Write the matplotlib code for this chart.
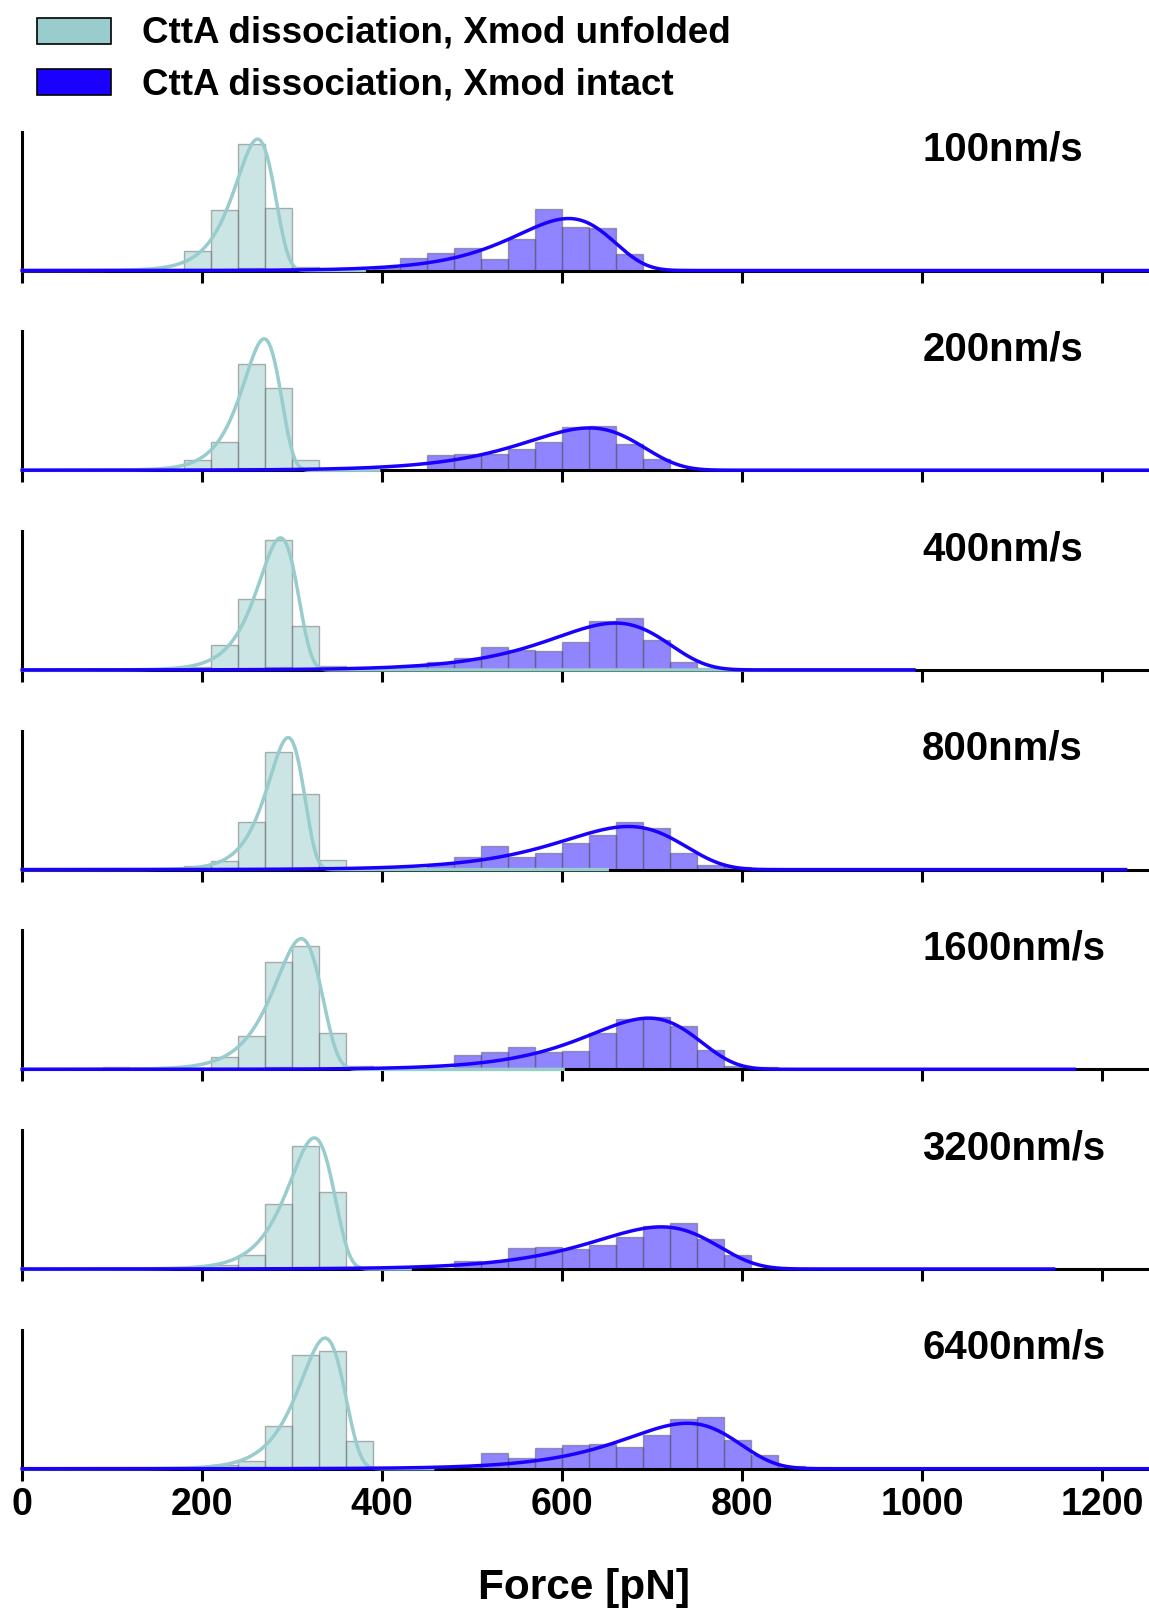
import numpy as np
import matplotlib
matplotlib.use('Agg')
import matplotlib.pyplot as plt
from matplotlib.patches import Rectangle

plt.rcParams['font.family'] = ['Liberation Sans', 'DejaVu Sans']
plt.rcParams['font.weight'] = 'bold'

# pulling speeds, one panel each
speeds = ['100nm/s', '200nm/s', '400nm/s', '800nm/s', '1600nm/s', '3200nm/s', '6400nm/s']

# histograms, bin width 30 pN, heights in % of panel height
bin_w = 30
unf_start = [180, 180, 180, 180, 90, 210, 210]
unf_hist = [
    [14, 43.8, 91, 45.2, 2.4],
    [7.2, 20.6, 76.6, 59.3, 7.2],
    [1.9, 17.8, 51, 93.8, 31.5, 3.1],
    [2.6, 6.5, 33.9, 84.9, 54.1, 7.2],
    [1.7, 0, 0, 1, 8.6, 24, 77.2, 88.6, 26.4, 2.4],
    [3.1, 10.3, 46.5, 88.5, 55.6],
    [2.4, 5.7, 31, 82.1, 84.7, 20],
]
int_start = [240, 240, 270, 270, 270, 480, 450]
int_hist = [
    [2, 0, 0, 0, 0, 1.5, 9, 12.9, 16.2, 8.1, 22.6, 44.3, 31.2, 30.5, 11.9],
    [1.9, 0, 0, 0, 0, 0, 0, 11, 11.5, 11.5, 15.1, 20.6, 30.9, 32.1, 18.7, 8.1],
    [2.4, 0, 0, 0, 0, 3.6, 5.5, 8.4, 16.8, 14.4, 13.7, 20, 34.9, 37.3, 21.6, 6, 1.2],
    [1.4, 0, 0, 0, 0, 1.2, 4.3, 8.9, 16.8, 9.4, 12.3, 19.2, 25, 34.6, 29.6, 11.8, 3.1, 2.2],
    [1.7, 0, 0, 0, 0, 0, 1, 10, 12.1, 16.2, 12.8, 13.5, 26.1, 36.1, 37.8, 31.1, 13.8, 2.4, 1.9],
    [6, 5, 14.8, 15.5, 14.3, 17.2, 22.7, 30.8, 33.4, 21.5, 10.3],
    [1.4, 1.9, 11, 7.4, 14.6, 17.2, 18.1, 15.5, 24.1, 36, 37.5, 20.3, 9.5, 1.9],
]

# fitted rupture force distributions: most probable force, width, peak height, end of drawn range
unf_mode = [261.5, 268.8, 287, 295.5, 310, 324.5, 336.5]
unf_width = [22, 21, 22, 20, 26, 25, 25]
unf_peak = [94.5, 94.5, 95, 95, 94, 94.3, 94]
unf_end = [380, 396, 990, 650, 601, 431, 456]
int_mode = [607, 630, 659, 673.5, 696, 710, 739]
int_width = [55, 65, 65, 68, 62, 68, 63]
int_peak = [37.4, 30.4, 33.7, 31, 36.8, 30.3, 32.7]
int_end = [1252, 1252, 991, 1226, 1169, 1146, 1252]

teal = '#99cccc'
blue = '#1a00ff'


def fit_curve(f, mode, width, peak):
    z = (f - mode) / width
    return peak * np.exp(z - np.exp(z) + 1)


W, H = 1149, 1612
fig = plt.figure(figsize=(W / 100, H / 100), dpi=100)

x0 = 22.2
xmax = (W - x0) / 0.9
for i in range(len(speeds)):
    top = 131.5 + i * 199.7
    bot = top + 139
    ax = fig.add_axes([x0 / W, 1 - bot / H, 1 - x0 / W, (bot - top) / H])

    # histograms
    h = np.array(int_hist[i], dtype=float)
    edges = int_start[i] + bin_w * np.arange(len(h))
    m = h > 0
    ax.bar(edges[m], h[m], width=bin_w, align='edge', color=blue, alpha=0.48,
           edgecolor='#555555', linewidth=1, zorder=1)
    h = np.array(unf_hist[i], dtype=float)
    edges = unf_start[i] + bin_w * np.arange(len(h))
    m = h > 0
    ax.bar(edges[m], h[m], width=bin_w, align='edge', color=teal, alpha=0.5,
           edgecolor='#666666', linewidth=1, zorder=1.5)

    # fits
    f = np.linspace(0, unf_end[i], 800)
    ax.plot(f, fit_curve(f, unf_mode[i], unf_width[i], unf_peak[i]), color=teal,
            lw=2.5, zorder=3, clip_on=False)
    f = np.linspace(0, int_end[i], 1200)
    ax.plot(f, fit_curve(f, int_mode[i], int_width[i], int_peak[i]), color=blue,
            lw=2.5, zorder=3.2, clip_on=False)

    ax.text(1000, 79, speeds[i], fontsize=28.9, fontweight='bold', ha='left', va='baseline')

    ax.set_xlim(0, xmax)
    ax.set_ylim(0, 100)
    ax.set_yticks([])
    ax.set_xticks(np.arange(0, 1201, 200))
    ax.spines['top'].set_visible(False)
    ax.spines['right'].set_visible(False)
    ax.spines['left'].set_linewidth(2.2)
    ax.spines['bottom'].set_linewidth(2.2)
    ax.patch.set_alpha(0)
    ax.tick_params(axis='x', direction='out', length=8.5, width=2.2, pad=5,
                   labelsize=27)
    if i < len(speeds) - 1:
        ax.tick_params(axis='x', labelbottom=False)
    else:
        for lab in ax.get_xticklabels():
            lab.set_fontweight('bold')

fig.text(584 / W, 1 - 1588 / H, 'Force [pN]', fontsize=30.5, fontweight='bold',
         ha='center', va='center')

# legend
legend_labels = ['CttA dissociation, Xmod unfolded', 'CttA dissociation, Xmod intact']
legend_colors = [teal, blue]
for k in range(2):
    ytop = 17.5 + k * 51.5
    fig.patches.append(Rectangle((37 / W, 1 - (ytop + 26) / H), 74 / W, 26 / H,
                                 transform=fig.transFigure, facecolor=legend_colors[k],
                                 edgecolor='black', linewidth=1.2))
    fig.text(142 / W, 1 - (ytop + 25) / H, legend_labels[k], fontsize=26.5,
             fontweight='bold', ha='left', va='baseline')

plt.savefig('out.png', dpi=100)
